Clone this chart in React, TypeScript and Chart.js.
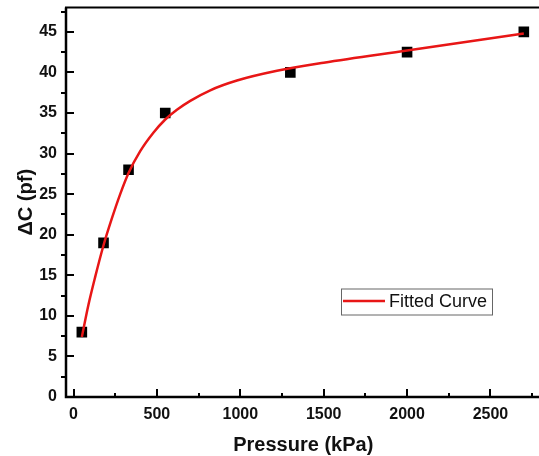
import React, { useEffect, useRef } from "react";
import { Chart, registerables } from "chart.js";

Chart.register(...registerables);

const pressureKPa = [50, 180, 330, 550, 1300, 2000, 2700];
const deltaC = [8, 19, 28, 35, 40, 42.5, 45];

const fitX = [50, 90, 130, 180, 230, 280, 330, 400, 480, 550, 620, 700, 820, 980, 1220, 1500, 2000, 2350, 2700];
const fitY = [7.4, 11.4, 14.8, 18.7, 22.0, 25.0, 27.6, 30.3, 32.6, 34.2, 35.4, 36.5, 37.8, 39.0, 40.2, 41.2, 42.7, 43.75, 44.8];

const xMajorTicks = [0, 500, 1000, 1500, 2000, 2500];
const xMinorTicks = [250, 750, 1250, 1750, 2250, 2750];
const yMajorTicks = [0, 5, 10, 15, 20, 25, 30, 35, 40, 45];
const yMinorTicks = [2.5, 7.5, 12.5, 17.5, 22.5, 27.5, 32.5, 37.5, 42.5, 47.5];

const legendLabel = "Fitted Curve";
const xTitle = "Pressure (kPa)";
const yTitle = "ΔC (pf)";

const RED = "rgb(232,22,22)";
const FONT = "Arial, 'Liberation Sans', sans-serif";

const framePlugin = {
  id: "frameTicks",
  afterDatasetsDraw(chart: any) {
    const { ctx, chartArea, scales } = chart;
    const { left, right, top, bottom } = chartArea;
    const xs = scales.x;
    const ys = scales.y;
    ctx.save();
    ctx.strokeStyle = "#000";
    ctx.lineCap = "butt";
    ctx.lineWidth = 2;
    ctx.beginPath();
    xMajorTicks.forEach((v) => {
      const px = Math.round(xs.getPixelForValue(v));
      ctx.moveTo(px, bottom);
      ctx.lineTo(px, bottom - 8);
    });
    xMinorTicks.forEach((v) => {
      const px = Math.round(xs.getPixelForValue(v));
      ctx.moveTo(px, bottom);
      ctx.lineTo(px, bottom - 4);
    });
    yMajorTicks.forEach((v) => {
      const py = Math.round(ys.getPixelForValue(v));
      ctx.moveTo(left, py);
      ctx.lineTo(left + 8, py);
    });
    yMinorTicks.forEach((v) => {
      const py = Math.round(ys.getPixelForValue(v));
      ctx.moveTo(left, py);
      ctx.lineTo(left - 5, py);
    });
    ctx.stroke();
    ctx.lineWidth = 2.5;
    ctx.beginPath();
    ctx.moveTo(left, top);
    ctx.lineTo(left, bottom);
    ctx.lineTo(right, bottom);
    ctx.stroke();
    ctx.lineWidth = 2;
    ctx.beginPath();
    ctx.moveTo(left - 1, top);
    ctx.lineTo(right, top);
    ctx.lineTo(right, bottom);
    ctx.stroke();
    const lx = left + 275;
    const ly = top + 281;
    const lw = 151;
    const lh = 26;
    ctx.fillStyle = "#fff";
    ctx.fillRect(lx, ly, lw, lh);
    ctx.lineWidth = 1;
    ctx.strokeStyle = "#666";
    ctx.strokeRect(lx + 0.5, ly + 0.5, lw, lh);
    ctx.strokeStyle = RED;
    ctx.lineWidth = 2.5;
    ctx.beginPath();
    ctx.moveTo(lx + 2, ly + 12.5);
    ctx.lineTo(lx + 44, ly + 12.5);
    ctx.stroke();
    ctx.fillStyle = "#111";
    ctx.font = `18px ${FONT}`;
    ctx.textBaseline = "middle";
    ctx.textAlign = "left";
    ctx.fillText(legendLabel, lx + 48, ly + 13.5);
    ctx.restore();
  },
};

export default function App() {
  const ref = useRef<HTMLCanvasElement>(null);
  useEffect(() => {
    if (!ref.current) return;
    const chart = new Chart(ref.current, {
      type: "scatter",
      data: {
        datasets: [
          {
            label: legendLabel,
            data: fitX.map((x, i) => ({ x, y: fitY[i] })),
            showLine: true,
            borderColor: RED,
            borderWidth: 2.5,
            pointRadius: 0,
            cubicInterpolationMode: "monotone",
            order: 0,
          } as any,
          {
            label: "Data",
            data: pressureKPa.map((x, i) => ({ x, y: deltaC[i] })),
            pointStyle: "rect",
            pointRadius: 7.5,
            backgroundColor: "#000",
            borderWidth: 0,
            order: 1,
          } as any,
        ],
      },
      options: {
        responsive: false,
        animation: false,
        devicePixelRatio: 1,
        layout: { padding: { left: 0, top: 7, right: 7, bottom: 0 } },
        plugins: { legend: { display: false }, tooltip: { enabled: false } },
        scales: {
          x: {
            type: "linear",
            min: -45,
            max: 2800,
            afterBuildTicks: (s: any) => {
              s.ticks = xMajorTicks.map((v) => ({ value: v }));
            },
            afterFit: (s: any) => {
              s.height = 59;
              s.paddingLeft = 0;
              s.paddingRight = 0;
            },
            grid: { display: false, drawTicks: false },
            border: { display: false },
            ticks: {
              color: "#111",
              font: { family: FONT, size: 16, weight: "bold" },
              padding: 8,
              maxRotation: 0,
              autoSkip: false,
              callback: (v: any) => String(v),
            },
            title: {
              display: true,
              text: xTitle,
              color: "#111",
              font: { family: FONT, size: 20, weight: "bold" },
              padding: { top: 0, bottom: -1 },
            },
          },
          y: {
            type: "linear",
            min: 0,
            max: 48,
            afterBuildTicks: (s: any) => {
              s.ticks = yMajorTicks.map((v) => ({ value: v }));
            },
            afterFit: (s: any) => {
              s.width = 66;
              s.paddingTop = 0;
              s.paddingBottom = 0;
            },
            grid: { display: false, drawTicks: false },
            border: { display: false },
            ticks: {
              color: "#111",
              font: { family: FONT, size: 16, weight: "bold" },
              padding: 9,
              autoSkip: false,
              callback: (v: any) => String(v),
            },
            title: {
              display: true,
              text: yTitle,
              color: "#111",
              font: { family: FONT, size: 20, weight: "bold" },
              padding: { top: 14, bottom: 0 },
            },
          },
        },
      } as any,
      plugins: [framePlugin],
    });
    return () => chart.destroy();
  }, []);
  return (
    <div style={{ position: "fixed", left: 0, top: 0, width: 539, height: 456, overflow: "hidden", background: "#fff" }}>
      <canvas ref={ref} width={548} height={456} style={{ display: "block", width: 548, height: 456 }} />
    </div>
  );
}
